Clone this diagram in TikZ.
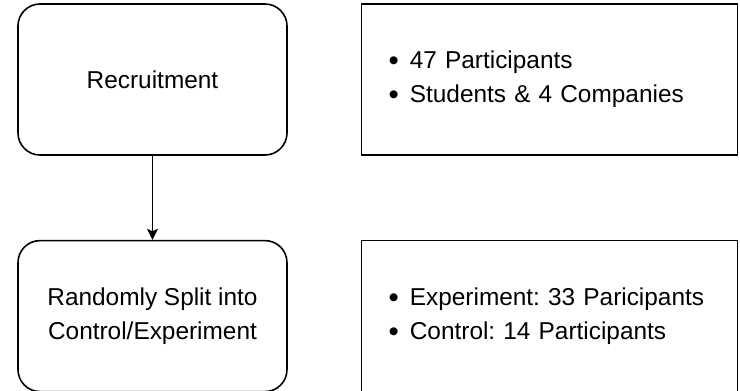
\documentclass[tikz,border=0pt]{standalone}
\usepackage{fontspec}
\setmainfont{Liberation Sans}
\usetikzlibrary{arrows, arrows.meta, positioning}
\newcommand{\itembullet}{\raisebox{-1pt}{\scalebox{1.2}{\textbullet}}\hspace{5.5pt}}

\begin{document}
\begin{tikzpicture}[
    node distance=42pt and 36.5pt,
    stepbox/.style={rectangle, draw, line width=0.8pt, rounded corners=11pt, minimum width=134.5pt, minimum height=75.5pt, align=center, font=\fontsize{12.2pt}{17pt}\selectfont},
    infobox/.style={rectangle, draw, line width=0.8pt, minimum width=188pt, minimum height=75.5pt, inner xsep=13.5pt, text width=161pt, align=left, font=\fontsize{12.2pt}{17pt}\selectfont\frenchspacing},
    arrow/.style={-{Stealth[length=5.5pt, width=5.5pt, inset=1.2pt]}, line width=0.8pt}
]
    \useasboundingbox (0,0) rectangle (370pt,-195.5pt);

    % Steps
    \node[stepbox] (recruit) at (76.25pt,-39.75pt) {Recruitment};
    \node[stepbox, below=of recruit] (split) {Randomly Split into\\Control/Experiment};

    % Details
    \node[infobox, right=of recruit] (recruitinfo) {\itembullet 47 Participants\\\itembullet Students \& 4 Companies};
    \node[infobox, right=of split] (splitinfo) {\itembullet Experiment: 33 Paricipants\\\itembullet Control: 14 Participants};

    % Arrows
    \draw[arrow] (recruit) -- (split);

\end{tikzpicture}
\end{document}
